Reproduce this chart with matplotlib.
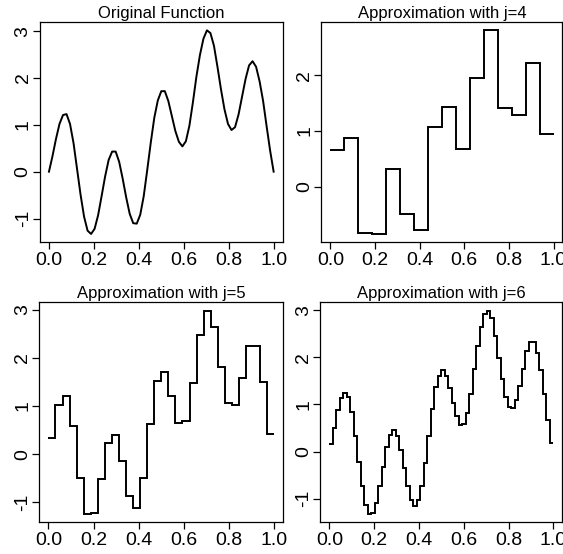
"""Haar-style step approximations of a wiggly function, four panels."""
import numpy as np
import matplotlib
matplotlib.use("Agg")
import matplotlib.pyplot as plt

plt.rcParams["font.family"] = ["Liberation Sans", "DejaVu Sans"]

# Original function at x = k/64
curve_x = [k / 64 for k in range(65)]
curve_y = [
    0.00, 0.33, 0.70, 1.02, 1.21, 1.23, 1.02, 0.61, 0.06, -0.49,
    -0.96, -1.26, -1.33, -1.22, -0.93, -0.52, -0.10, 0.25, 0.43, 0.43,
    0.21, -0.15, -0.55, -0.90, -1.10, -1.11, -0.92, -0.52, 0.04, 0.62,
    1.15, 1.52, 1.72, 1.72, 1.51, 1.19, 0.87, 0.64, 0.54, 0.65,
    0.98, 1.48, 2.03, 2.49, 2.84, 3.02, 2.96, 2.69, 2.24, 1.76,
    1.33, 1.02, 0.89, 0.95, 1.22, 1.60, 1.98, 2.27, 2.36, 2.24,
    1.93, 1.51, 0.97, 0.45, 0.00,
]

# step levels for j=4 (16 bins), j=5 (32 bins), j=6 (64 bins)
approx_j4 = [
    0.66, 0.87, -0.84, -0.85, 0.32, -0.50, -0.78, 1.07,
    1.44, 0.67, 1.96, 2.81, 1.41, 1.29, 2.23, 0.95,
]
approx_j5 = [
    0.33, 1.01, 1.20, 0.58, -0.49, -1.25, -1.23, -0.52,
    0.23, 0.39, -0.15, -0.88, -1.11, -0.50, 0.62, 1.52,
    1.70, 1.21, 0.64, 0.69, 1.48, 2.47, 2.98, 2.65,
    1.80, 1.06, 1.01, 1.59, 2.24, 2.24, 1.49, 0.42,
]
approx_j6 = [
    0.16, 0.51, 0.88, 1.13, 1.25, 1.15, 0.83, 0.34,
    -0.22, -0.74, -1.14, -1.33, -1.31, -1.10, -0.74, -0.32,
    0.09, 0.35, 0.46, 0.34, 0.04, -0.35, -0.73, -1.03,
    -1.16, -1.03, -0.74, -0.25, 0.33, 0.90, 1.38, 1.61,
    1.74, 1.61, 1.35, 1.02, 0.76, 0.57, 0.59, 0.82,
    1.23, 1.75, 2.23, 2.65, 2.91, 2.99, 2.84, 2.46,
    1.99, 1.55, 1.16, 0.94, 0.92, 1.09, 1.40, 1.76,
    2.13, 2.32, 2.32, 2.09, 1.74, 1.23, 0.66, 0.19,
]

x_ticks = [0.0, 0.2, 0.4, 0.6, 0.8, 1.0]

fig = plt.figure(figsize=(5.63, 5.54), dpi=100)

# axes boxes in figure fractions (left, bottom, width, height)
boxes = [
    (0.071, 0.563, 0.431, 0.397),
    (0.571, 0.563, 0.428, 0.397),
    (0.070, 0.057, 0.433, 0.397),
    (0.569, 0.057, 0.430, 0.397),
]
titles = [
    "Original Function",
    "Approximation with j=4",
    "Approximation with j=5",
    "Approximation with j=6",
]


def r_style(ax, yvals, title):
    # mimic R base graphics: 4% padding, boxed, outward ticks
    lo, hi = min(yvals), max(yvals)
    pad = 0.04 * (hi - lo)
    ax.set_ylim(lo - pad, hi + pad)
    ax.set_xlim(-0.04, 1.04)
    ax.set_xticks(x_ticks)
    ax.set_xticklabels([f"{t:.1f}" for t in x_ticks])
    yt = [v for v in range(-1, 4) if lo - pad <= v <= hi + pad]
    ax.set_yticks(yt)
    ax.set_yticklabels([str(v) for v in yt], rotation=90, va="center")
    ax.tick_params(direction="out", length=5, width=0.9, labelsize=14)
    ax.tick_params(axis="x", pad=2)
    ax.tick_params(axis="y", pad=1)
    for sp in ax.spines.values():
        sp.set_linewidth(0.9)
    ax.set_title(title, fontsize=12, pad=3)


ax = fig.add_axes(boxes[0])
ax.plot(curve_x, curve_y, color="black", lw=1.4)
r_style(ax, curve_y, titles[0])

for box, vals, title in zip(boxes[1:], [approx_j4, approx_j5, approx_j6], titles[1:]):
    ax = fig.add_axes(box)
    edges = np.linspace(0, 1, len(vals) + 1)
    ax.stairs(vals, edges, baseline=None, color="black", lw=1.4)
    r_style(ax, vals, title)

fig.savefig("out.png", dpi=100, facecolor="white")
plt.close(fig)
